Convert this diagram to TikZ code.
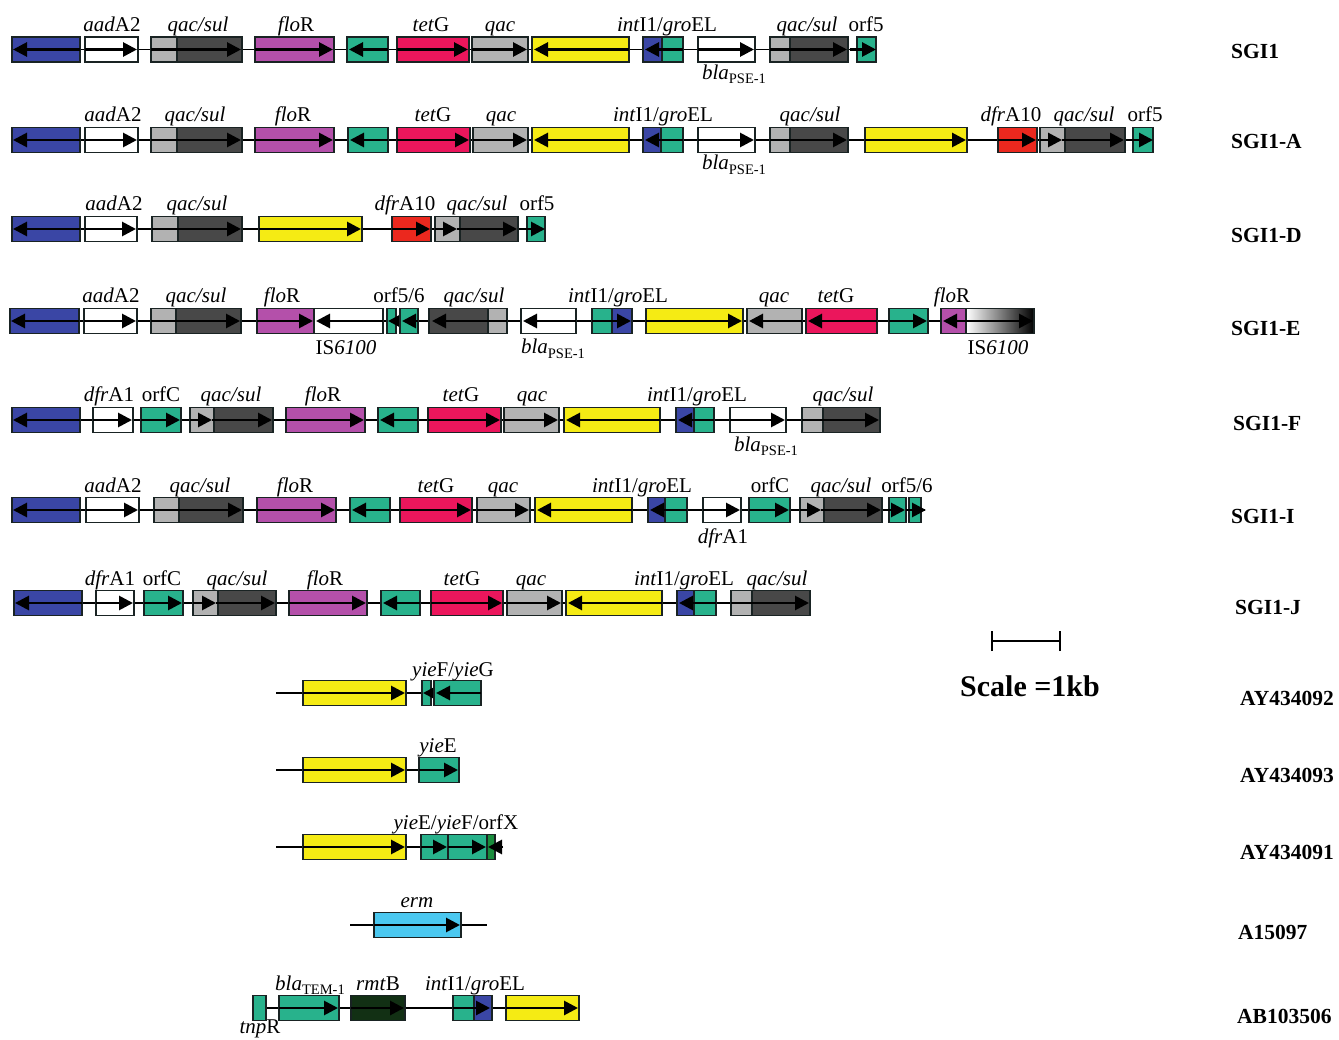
\documentclass[tikz,border=0pt]{standalone}
\usepackage{fontspec}
\setmainfont{Liberation Serif}
\usetikzlibrary{arrows.meta}
\definecolor{cblue}{RGB}{58,70,165}
\definecolor{clgrey}{RGB}{178,178,178}
\definecolor{cdgrey}{RGB}{72,72,72}
\definecolor{cmag}{RGB}{180,80,170}
\definecolor{cgreen}{RGB}{40,178,140}
\definecolor{cpink}{RGB}{235,22,92}
\definecolor{cyel}{RGB}{245,235,20}
\definecolor{cred}{RGB}{235,40,30}
\definecolor{ccyan}{RGB}{75,200,240}
\definecolor{cdkgreen}{RGB}{18,48,20}
\definecolor{cmgreen}{RGB}{25,140,60}
\definecolor{outl}{RGB}{25,35,35}
\tikzset{
  gout/.style={draw=outl, line width=1.5pt},
  arr/.style={line width=2.8pt, -{Triangle[length=14pt,width=14pt]}},
  conn/.style={line width=1.4pt},
  lbl/.style={font=\fontsize{21}{24}\selectfont, inner sep=0pt, anchor=base},
  side/.style={font=\bfseries\fontsize{21.5}{24}\selectfont, inner sep=0pt, anchor=base west},
}
\newcommand\rowy{0}
\newcommand\gb[3]{\filldraw[gout,fill=#3] (#1,\rowy-12.5) rectangle (#2,\rowy+12.5);}
\newcommand\gbb[5]{\fill[#4] (#1,\rowy-12.5) rectangle (#2,\rowy+12.5);
  \fill[#5] (#2,\rowy-12.5) rectangle (#3,\rowy+12.5);
  \draw[gout] (#1,\rowy-12.5) rectangle (#3,\rowy+12.5) (#2,\rowy-12.5) -- (#2,\rowy+12.5);}
\newcommand\ga[2]{\draw[arr] (#1,\rowy) -- (#2,\rowy);}
\newcommand\bb[2]{\draw[conn] (#1,\rowy) -- (#2,\rowy);}
\newcommand\blasub[1]{\textit{bla}\raisebox{-4.5pt}{\fontsize{14.5}{15}\selectfont #1}}
\newcommand\intgro{\textit{int}I1/\textit{gro}EL}
\begin{document}
\begin{tikzpicture}[x=1pt,y=-1pt]
\fill[white] (0,0) rectangle (1339,1040);
\useasboundingbox (0,0) rectangle (1339,1040);
% ---------- SGI1
\renewcommand\rowy{49.5}
\bb{12}{876}
\gb{12}{80}{cblue}\ga{80}{13}
\gb{85}{138}{white}\ga{85}{137}
\gbb{151}{177}{242}{clgrey}{cdgrey}\ga{151}{241}
\gb{255}{334}{cmag}\ga{255}{333}
\gb{347}{388}{cgreen}\ga{388}{349}
\gb{397}{469}{cpink}\ga{397}{468}
\gb{472}{528}{clgrey}\ga{472}{527}
\gb{532}{629}{cyel}\ga{629}{534}
\gbb{643}{662}{683}{cblue}{cgreen}\ga{683}{645}
\gb{698}{755}{white}\ga{698}{754}
\gbb{770}{790}{848}{clgrey}{cdgrey}\ga{770}{847}
\gb{857}{876}{cgreen}\ga{850}{876}
\node[lbl] (a1) at (112,\rowy-18) {\textit{aad}A2};
\node[lbl] (a2) at (198,\rowy-18) {\textit{qac/sul}};
\node[lbl] (a3) at (296,\rowy-18) {\textit{flo}R};
\node[lbl] (a4) at (431,\rowy-18) {\textit{tet}G};
\node[lbl] (a5) at (500,\rowy-18) {\textit{qac}};
\node[lbl] (a6) at (667,\rowy-18) {\intgro};
\node[lbl] (a7) at (807,\rowy-18) {\textit{qac/sul}};
\node[lbl] (a8) at (866,\rowy-18) {orf5};
\node[lbl] (a9) at (734,\rowy+30) {\blasub{PSE-1}};
\node[side] (s1) at (1231,\rowy+9) {SGI1};
% ---------- SGI1-A
\renewcommand\rowy{140}
\bb{12}{1153}
\gb{12}{80}{cblue}\ga{80}{13}
\gb{85}{138}{white}\ga{85}{137}
\gbb{151}{177}{242}{clgrey}{cdgrey}\ga{151}{241}
\gb{255}{334}{cmag}\ga{255}{333}
\gb{348}{388}{cgreen}\ga{388}{350}
\gb{397}{470}{cpink}\ga{397}{469}
\gb{473}{528}{clgrey}\ga{473}{527}
\gb{532}{629}{cyel}\ga{629}{534}
\gbb{643}{661}{683}{cblue}{cgreen}\ga{683}{645}
\gb{698}{755}{white}\ga{698}{754}
\gbb{770}{790}{848}{clgrey}{cdgrey}\ga{770}{847}
\gb{865}{967}{cyel}\ga{865}{966}
\gb{998}{1037}{cred}\ga{998}{1036}
\gbb{1040}{1065}{1125}{clgrey}{cdgrey}\ga{1040}{1062}\ga{1062}{1124}
\gb{1133}{1153}{cgreen}\ga{1126}{1153}
\node[lbl] (b1) at (113,\rowy-18) {\textit{aad}A2};
\node[lbl] (b2) at (195,\rowy-18) {\textit{qac/sul}};
\node[lbl] (b3) at (293,\rowy-18) {\textit{flo}R};
\node[lbl] (b4) at (433,\rowy-18) {\textit{tet}G};
\node[lbl] (b5) at (501,\rowy-18) {\textit{qac}};
\node[lbl] (b6) at (663,\rowy-18) {\intgro};
\node[lbl] (b7) at (810,\rowy-18) {\textit{qac/sul}};
\node[lbl] (b8) at (1011,\rowy-18) {\textit{dfr}A10};
\node[lbl] (b9) at (1084,\rowy-18) {\textit{qac/sul}};
\node[lbl] (b10) at (1145,\rowy-18) {orf5};
\node[lbl] (b11) at (734,\rowy+30) {\blasub{PSE-1}};
\node[side] (s2) at (1231,\rowy+9) {SGI1-A};
% ---------- SGI1-D
\renewcommand\rowy{229}
\bb{12}{545}
\gb{12}{80}{cblue}\ga{80}{13}
\gb{85}{137}{white}\ga{85}{136}
\gbb{152}{178}{242}{clgrey}{cdgrey}\ga{152}{241}
\gb{259}{362}{cyel}\ga{259}{361}
\gb{392}{431}{cred}\ga{392}{430}
\gbb{435}{460}{518}{clgrey}{cdgrey}\ga{435}{457}\ga{457}{517}
\gb{527}{545}{cgreen}\ga{520}{545}
\node[lbl] (c1) at (114,\rowy-18) {\textit{aad}A2};
\node[lbl] (c2) at (197,\rowy-18) {\textit{qac/sul}};
\node[lbl] (c3) at (405,\rowy-18) {\textit{dfr}A10};
\node[lbl] (c4) at (477,\rowy-18) {\textit{qac/sul}};
\node[lbl] (c5) at (537,\rowy-18) {orf5};
\node[side] (s3) at (1231,\rowy+14) {SGI1-D};
% ---------- SGI1-E
\renewcommand\rowy{321}
\bb{10}{1034}
\gb{10}{79}{cblue}\ga{79}{11}
\gb{84}{137}{white}\ga{84}{136}
\gbb{151}{176}{241}{clgrey}{cdgrey}\ga{151}{240}
\gb{257}{314}{cmag}\ga{257}{313}
\gb{314}{383}{white}\ga{383}{316}
\gb{387}{396}{cgreen}\ga{400}{388}
\gb{400}{418}{cgreen}\ga{418}{402}
\gbb{429}{488}{507}{cdgrey}{clgrey}\ga{507}{432}
\gb{521}{576}{white}\ga{576}{523}
\gbb{592}{612}{632}{cgreen}{cblue}\ga{592}{631}
\gb{646}{743}{cyel}\ga{646}{742}
\gb{747}{802}{clgrey}\ga{802}{749}
\gb{806}{877}{cpink}\ga{877}{808}
\gb{889}{928}{cgreen}\ga{889}{927}
\fill[cmag] (941,\rowy-12.5) rectangle (966,\rowy+12.5);
\shade[left color=white,right color=black] (966,\rowy-12.5) rectangle (1034,\rowy+12.5);
\draw[gout] (941,\rowy-12.5) rectangle (1034,\rowy+12.5) (966,\rowy-12.5) -- (966,\rowy+12.5);
\ga{966}{943}\ga{960}{1033}
\node[lbl] (d1) at (111,\rowy-18) {\textit{aad}A2};
\node[lbl] (d2) at (196,\rowy-18) {\textit{qac/sul}};
\node[lbl] (d3) at (282,\rowy-18) {\textit{flo}R};
\node[lbl] (d4) at (399,\rowy-18) {orf5/6};
\node[lbl] (d5) at (474,\rowy-18) {\textit{qac/sul}};
\node[lbl] (d6) at (618,\rowy-18) {\intgro};
\node[lbl] (d7) at (774,\rowy-18) {\textit{qac}};
\node[lbl] (d8) at (836,\rowy-18) {\textit{tet}G};
\node[lbl] (d9) at (952,\rowy-18) {\textit{flo}R};
\node[lbl] (d10) at (346,\rowy+34) {IS\textit{6100}};
\node[lbl] (d11) at (553,\rowy+33) {\blasub{PSE-1}};
\node[lbl] (d12) at (998,\rowy+34) {IS\textit{6100}};
\node[side] (s4) at (1231,\rowy+15) {SGI1-E};
% ---------- SGI1-F
\renewcommand\rowy{420}
\bb{12}{880}
\gb{12}{80}{cblue}\ga{80}{13}
\gb{93}{133}{white}\ga{93}{132}
\gb{141}{181}{cgreen}\ga{141}{180}
\gbb{190}{214}{273}{clgrey}{cdgrey}\ga{190}{212}\ga{212}{272}
\gb{286}{365}{cmag}\ga{286}{364}
\gb{378}{418}{cgreen}\ga{418}{380}
\gb{428}{501}{cpink}\ga{428}{500}
\gb{504}{559}{clgrey}\ga{504}{558}
\gb{564}{660}{cyel}\ga{660}{566}
\gbb{676}{694}{714}{cblue}{cgreen}\ga{714}{678}
\gb{730}{786}{white}\ga{730}{785}
\gbb{802}{823}{880}{clgrey}{cdgrey}\ga{802}{879}
\node[lbl] (e1) at (109,\rowy-18) {\textit{dfr}A1};
\node[lbl] (e2) at (161,\rowy-18) {orfC};
\node[lbl] (e3) at (231,\rowy-18) {\textit{qac/sul}};
\node[lbl] (e4) at (323,\rowy-18) {\textit{flo}R};
\node[lbl] (e5) at (461,\rowy-18) {\textit{tet}G};
\node[lbl] (e6) at (532,\rowy-18) {\textit{qac}};
\node[lbl] (e7) at (697,\rowy-18) {\intgro};
\node[lbl] (e8) at (843,\rowy-18) {\textit{qac/sul}};
\node[lbl] (e9) at (766,\rowy+31) {\blasub{PSE-1}};
\node[side] (s5) at (1233,\rowy+11) {SGI1-F};
% ---------- SGI1-I
\renewcommand\rowy{510}
\bb{12}{925}
\gb{12}{80}{cblue}\ga{80}{13}
\gb{86}{139}{white}\ga{86}{138}
\gbb{154}{179}{243}{clgrey}{cdgrey}\ga{154}{242}
\gb{257}{336}{cmag}\ga{257}{335}
\gb{350}{390}{cgreen}\ga{390}{352}
\gb{400}{472}{cpink}\ga{400}{471}
\gb{477}{530}{clgrey}\ga{477}{529}
\gb{535}{632}{cyel}\ga{632}{537}
\gbb{648}{665}{687}{cblue}{cgreen}\ga{687}{650}
\gb{703}{741}{white}\ga{703}{740}
\gb{749}{790}{cgreen}\ga{749}{789}
\gbb{800}{824}{882}{clgrey}{cdgrey}\ga{800}{821}\ga{821}{881}
\gb{889}{906}{cgreen}\ga{884}{905}
\gb{909}{921}{cgreen}\ga{906}{926}
\node[lbl] (f1) at (113,\rowy-18) {\textit{aad}A2};
\node[lbl] (f2) at (200,\rowy-18) {\textit{qac/sul}};
\node[lbl] (f3) at (295,\rowy-18) {\textit{flo}R};
\node[lbl] (f4) at (436,\rowy-18) {\textit{tet}G};
\node[lbl] (f5) at (503,\rowy-18) {\textit{qac}};
\node[lbl] (f6) at (642,\rowy-18) {\intgro};
\node[lbl] (f7) at (770,\rowy-18) {orfC};
\node[lbl] (f8) at (841,\rowy-18) {\textit{qac/sul}};
\node[lbl] (f9) at (907,\rowy-18) {orf5/6};
\node[lbl] (f10) at (723,\rowy+33) {\textit{dfr}A1};
\node[side] (s6) at (1231,\rowy+13) {SGI1-I};
% ---------- SGI1-J
\renewcommand\rowy{603}
\bb{14}{810}
\gb{14}{82}{cblue}\ga{82}{15}
\gb{96}{134}{white}\ga{96}{133}
\gb{144}{183}{cgreen}\ga{144}{182}
\gbb{193}{218}{276}{clgrey}{cdgrey}\ga{193}{216}\ga{216}{275}
\gb{289}{367}{cmag}\ga{289}{366}
\gb{381}{420}{cgreen}\ga{420}{383}
\gb{431}{503}{cpink}\ga{431}{502}
\gb{507}{562}{clgrey}\ga{507}{561}
\gb{566}{662}{cyel}\ga{662}{568}
\gbb{677}{694}{716}{cblue}{cgreen}\ga{716}{679}
\gbb{731}{752}{810}{clgrey}{cdgrey}\ga{731}{809}
\node[lbl] (g1) at (110,\rowy-18) {\textit{dfr}A1};
\node[lbl] (g2) at (162,\rowy-18) {orfC};
\node[lbl] (g3) at (237,\rowy-18) {\textit{qac/sul}};
\node[lbl] (g4) at (325,\rowy-18) {\textit{flo}R};
\node[lbl] (g5) at (462,\rowy-18) {\textit{tet}G};
\node[lbl] (g6) at (531,\rowy-18) {\textit{qac}};
\node[lbl] (g7) at (684,\rowy-18) {\intgro};
\node[lbl] (g8) at (777,\rowy-18) {\textit{qac/sul}};
\node[side] (s7) at (1235,\rowy+11) {SGI1-J};
% ---------- AY434092
\renewcommand\rowy{693}
\bb{276}{481}
\gb{303}{406}{cyel}\ga{303}{405}
\gb{422}{431}{cgreen}\ga{435}{423}
\gb{434}{481}{cgreen}\ga{481}{436}
\node[lbl] (h1) at (453,\rowy-17) {\textit{yie}F/\textit{yie}G};
\node[side] (s8) at (1240,\rowy+12) {AY434092};
% ---------- AY434093
\renewcommand\rowy{770}
\bb{276}{459}
\gb{303}{406}{cyel}\ga{303}{405}
\gb{419}{459}{cgreen}\ga{419}{458}
\node[lbl] (i1) at (438,\rowy-18) {\textit{yie}E};
\node[side] (s9) at (1240,\rowy+12) {AY434093};
% ---------- AY434091
\renewcommand\rowy{847}
\bb{276}{495}
\gb{303}{406}{cyel}\ga{303}{405}
\gb{421}{448}{cgreen}\ga{421}{447}
\gb{448}{487}{cgreen}\ga{448}{486}
\gb{487}{495}{cmgreen}\ga{503}{488}
\node[lbl] (j1) at (456,\rowy-18) {\textit{yie}E/\textit{yie}F/orfX};
\node[side] (s10) at (1240,\rowy+12) {AY434091};
% ---------- A15097
\renewcommand\rowy{925}
\bb{350}{487}
\gb{374}{461}{ccyan}\ga{374}{460}
\node[lbl] (k1) at (417,\rowy-18) {\textit{erm}};
\node[side] (s11) at (1238,\rowy+14) {A15097};
% ---------- AB103506
\renewcommand\rowy{1008}
\bb{266}{579}
\gb{253}{266}{cgreen}
\gb{279}{339}{cgreen}\ga{279}{338}
\gb{351}{405}{cdkgreen}\ga{351}{404}
\gbb{453}{474}{492}{cgreen}{cblue}\ga{453}{490}
\gb{506}{579}{cyel}\ga{506}{578}
\node[lbl] (m1) at (310,\rowy-18) {\blasub{TEM-1}};
\node[lbl] (m2) at (378,\rowy-18) {\textit{rmt}B};
\node[lbl] (m3) at (475,\rowy-18) {\intgro};
\node[lbl] (m4) at (260,\rowy+25) {\textit{tnp}R};
\node[side] (s12) at (1237,\rowy+15) {AB103506};
% ---------- scale bar
\coordinate (sb1) at (992,641);
\coordinate (sb2) at (1060,641);
\draw[line width=2pt] (sb1) -- (sb2);
\draw[line width=2pt] ([yshift=-10pt]sb1) -- ([yshift=10pt]sb1);
\draw[line width=2pt] ([yshift=-10pt]sb2) -- ([yshift=10pt]sb2);
\node[font=\bfseries\fontsize{30}{34}\selectfont, inner sep=0pt, anchor=base] (sc) at (1030,696) {Scale =1kb};
\end{tikzpicture}
\end{document}
